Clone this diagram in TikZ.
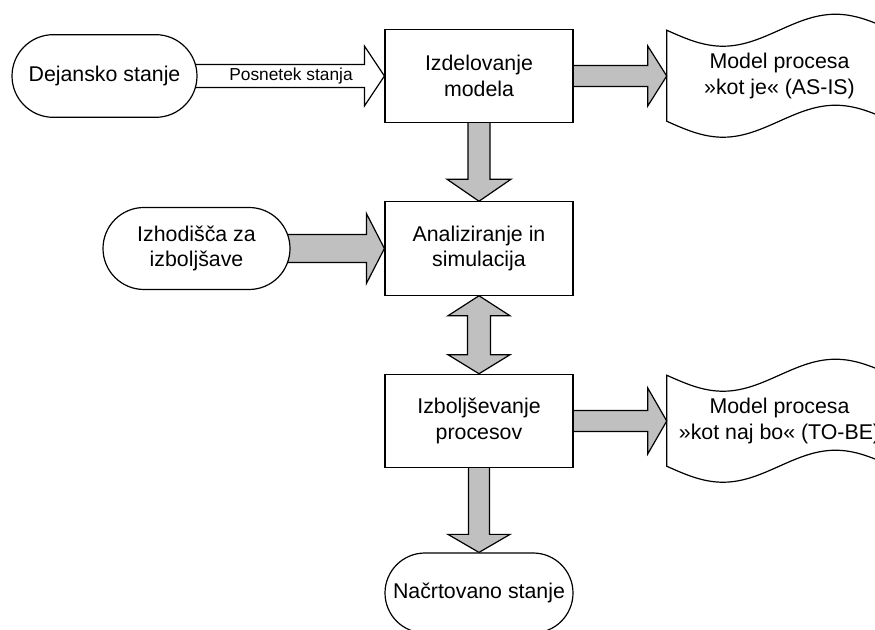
\documentclass[tikz,border=0pt]{standalone}
\usepackage{fontspec}
\setmainfont{Liberation Sans}
\usetikzlibrary{shapes.misc,calc,backgrounds}
\definecolor{arrowgray}{RGB}{192,192,192}

\tikzset{
  every node/.style={font=\fontsize{16}{19}\selectfont, align=center, inner sep=0pt},
  outline/.style={draw=black, line width=0.9pt, line join=miter},
  procbox/.style={outline, fill=white, rectangle, minimum width=141pt, minimum height=70pt},
  terminal/.style={outline, fill=white, rounded rectangle, minimum height=62pt},
  docbox/.style={minimum width=168.75pt, minimum height=68.25pt},
  grayarrow/.style={outline, fill=arrowgray},
  whitearrow/.style={outline, fill=white},
  smalllabel/.style={font=\fontsize{13}{15}\selectfont},
}

% block arrow pointing right: style, start, tip, shaft half width, head half width, head length
\newcommand\blockright[6]{%
  \draw[#1] ($(#2)+(0,-#4)$) -- ($(#3)+(-#6,-#4)$) -- ($(#3)+(-#6,-#5)$) -- (#3)
    -- ($(#3)+(-#6,#5)$) -- ($(#3)+(-#6,#4)$) -- ($(#2)+(0,#4)$) -- cycle;}
% block arrow pointing down: style, start, tip, shaft half width, head half width, head length
\newcommand\blockdown[6]{%
  \draw[#1] ($(#2)+(-#4,0)$) -- ($(#3)+(-#4,-#6)$) -- ($(#3)+(-#5,-#6)$) -- (#3)
    -- ($(#3)+(#5,-#6)$) -- ($(#3)+(#4,-#6)$) -- ($(#2)+(#4,0)$) -- cycle;}
% wavy document outline attached to a named node (top-left corner origin)
\newcommand\wavedoc[1]{%
  \begin{scope}[shift={(#1.north west)}]
    \draw[outline] plot[domain=225:0, samples=60, variable=\t] (\t,{16*sin(\t*1.6)})
      -- plot[domain=0:225, samples=60, variable=\t] (\t,{91+16*sin(\t*1.6)}) -- cycle;
  \end{scope}}

\begin{document}
\begin{tikzpicture}[x=0.75pt, y=-0.75pt]
  \useasboundingbox (0,0) rectangle (875,630);
  \clip (0,0) rectangle (875,630);

  % process steps
  \node[procbox] (izd) at (479,76) {Izdelovanje\\modela};
  \node[procbox] (ana) at (479,248.5) {Analiziranje in\\simulacija};
  \node[procbox] (izb) at (479,421) {Izboljševanje\\procesov};

  % start and end states
  \node[terminal, minimum width=138.75pt] (dej) at (104.5,76) {Dejansko stanje};
  \node[terminal, minimum width=140.25pt, minimum height=61.5pt] (izh) at (196.5,248.5) {Izhodišča za\\izboljšave};
  \node[terminal, minimum width=141pt, minimum height=60pt] (nac) at (479,593) {Načrtovano stanje};

  % resulting process models
  \node[docbox] (d1) at (779.5,76) {Model procesa\\»kot je« (AS-IS)};
  \node[docbox] (d2) at (779.5,421) {Model procesa\\»kot naj bo« (TO-BE)};
  \wavedoc{d1}
  \wavedoc{d2}

  % connectors
  \begin{pgfonlayer}{background}
    \blockright{whitearrow}{dej.center}{izd.west}{11.5}{30}{20}
    \blockright{grayarrow}{izd.center}{d1.west}{10.5}{30}{19}
    \blockright{grayarrow}{izh.center}{ana.west}{14}{35}{18}
    \blockright{grayarrow}{izb.center}{d2.west}{10.5}{33}{19}
    \blockdown{grayarrow}{izd.center}{ana.north}{11}{32}{22}
    \blockdown{grayarrow}{izb.center}{nac.north}{10.5}{31}{18}
    \draw[grayarrow] (ana.south) -- ($(ana.south)+(31,20)$) -- ($(ana.south)+(11.5,20)$)
      -- ($(izb.north)+(11.5,-19)$) -- ($(izb.north)+(31,-19)$) -- (izb.north)
      -- ($(izb.north)+(-31,-19)$) -- ($(izb.north)+(-11.5,-19)$)
      -- ($(ana.south)+(-11.5,20)$) -- ($(ana.south)+(-31,20)$) -- cycle;
  \end{pgfonlayer}

  \node[smalllabel] (pos) at ($(dej.east)!0.5!(izd.west)$) {Posnetek stanja};
\end{tikzpicture}
\end{document}
